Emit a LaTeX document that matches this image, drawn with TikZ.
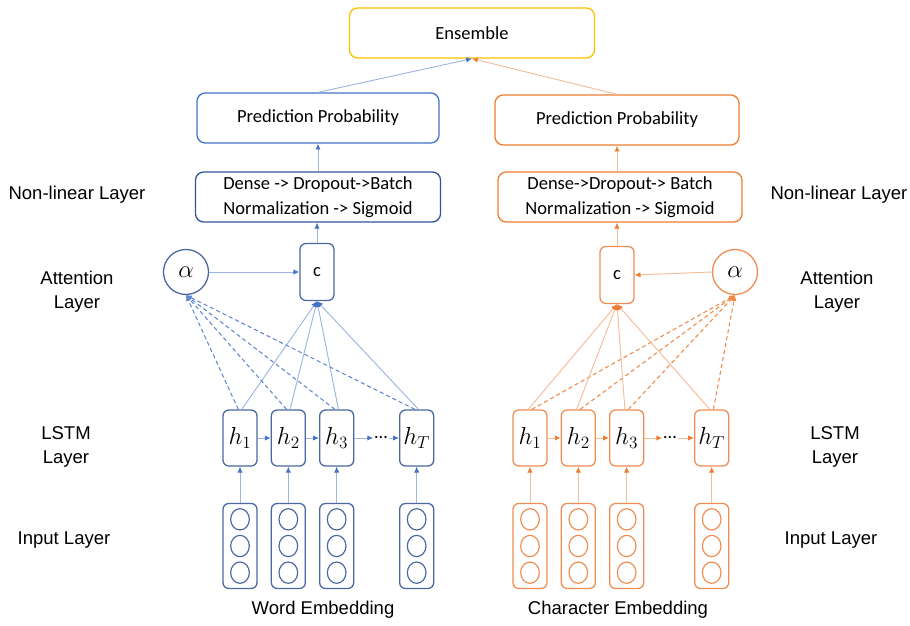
\RequirePackage{fix-cm}
\documentclass[tikz,border=0pt]{standalone}
\usepackage{fontspec}
\setmainfont{Carlito}
\newfontfamily\labelfont{Liberation Sans}
\usetikzlibrary{arrows.meta}

\definecolor{wordblue}{HTML}{4472C4}
\definecolor{wordnavy}{HTML}{2F5597}
\definecolor{wordedge}{HTML}{4A68A2}
\definecolor{wordline}{HTML}{9DB5E0}
\definecolor{charorange}{HTML}{ED7D31}
\definecolor{charedge}{HTML}{EE8D52}
\definecolor{charline}{HTML}{F5BC98}
\definecolor{ensgold}{HTML}{FFC000}

\begin{document}
\begin{tikzpicture}[x=0.03cm, y=-0.03cm, node distance=1.45cm,
  txt/.style={font=\fontsize{15.8}{21}\selectfont},
  mtxt/.style={font=\fontsize{21}{24}\selectfont},
  side/.style={font=\labelfont\fontsize{15.8}{20.5}\selectfont, align=center},
  box/.style={draw, rounded corners=7pt, line width=1.1pt, minimum height=1.5cm, align=center, txt},
  hcell/.style={draw, rounded corners=5pt, line width=1.1pt, minimum width=1.02cm, minimum height=1.68cm, inner sep=0pt, mtxt},
  attn/.style={draw, circle, line width=1.1pt, minimum size=1.35cm, inner sep=0pt, mtxt},
  embcol/.style={draw, rounded corners=5pt, line width=1.1pt, minimum width=1.02cm, minimum height=2.55cm},
  wlink/.style={draw=wordline, line width=0.8pt, -{Latex[length=5pt,width=4.5pt,color=wordblue]}},
  wdash/.style={draw=wordblue!85, line width=0.9pt, dash pattern=on 3.5pt off 2.5pt, -{Latex[length=5pt,width=4.5pt]}},
  clink/.style={draw=charline, line width=0.8pt, -{Latex[length=5pt,width=4.5pt,color=charorange]}},
  cdash/.style={draw=charorange!90, line width=0.9pt, dash pattern=on 3.5pt off 2.5pt, -{Latex[length=5pt,width=4.5pt]}}]

  \useasboundingbox (0,0) rectangle (910,626);

  % Top
  \node[box, draw=ensgold, minimum width=7.35cm] (ens) at (472,33) {Ensemble};

  % Word branch
  \node[box, draw=wordblue, minimum width=7.26cm] (wpp) at (318,118) {Prediction Probability};
  \node[box, draw=wordnavy, minimum width=7.35cm] (wnl) at (318,197) {Dense -> Dropout->Batch\\Normalization -> Sigmoid};
  \node[attn, draw=wordedge] (walpha) at (186,272) {$\alpha$};
  \node[hcell, draw=wordedge, minimum height=1.71cm, txt] (wc) at (317,272) {c};
  \node[hcell, draw=wordedge] (wh1) at (240,438) {$h_1$};
  \node[hcell, draw=wordedge, right of=wh1] (wh2) {$h_2$};
  \node[hcell, draw=wordedge, right of=wh2] (wh3) {$h_3$};
  \node[hcell, draw=wordedge, right of=wh3, node distance=2.4cm] (whT) {$h_T$};
  \node[txt, inner sep=1pt] (wdots) at (381,438) {\ldots};
  \node[embcol, draw=wordedge, below of=wh1, node distance=3.24cm] (wx1) {};
  \node[embcol, draw=wordedge, below of=wh2, node distance=3.24cm] (wx2) {};
  \node[embcol, draw=wordedge, below of=wh3, node distance=3.24cm] (wx3) {};
  \node[embcol, draw=wordedge, below of=whT, node distance=3.24cm] (wx4) {};

  % Character branch
  \node[box, draw=charorange, minimum width=7.32cm] (cpp) at (617,120) {Prediction Probability};
  \node[box, draw=charorange, minimum width=7.32cm] (cnl) at (620,197) {Dense->Dropout-> Batch\\Normalization -> Sigmoid};
  \node[attn, draw=charedge] (calpha) at (735,272) {$\alpha$};
  \node[hcell, draw=charedge, minimum height=1.71cm, txt] (cc) at (617,275) {c};
  \node[hcell, draw=charedge] (ch1) at (530,438) {$h_1$};
  \node[hcell, draw=charedge, right of=ch1] (ch2) {$h_2$};
  \node[hcell, draw=charedge, right of=ch2] (ch3) {$h_3$};
  \node[hcell, draw=charedge, right of=ch3, node distance=2.55cm] (chT) {$h_T$};
  \node[txt, inner sep=1pt] (cdots) at (670,438) {\ldots};
  \node[embcol, draw=charedge, below of=ch1, node distance=3.24cm] (cx1) {};
  \node[embcol, draw=charedge, below of=ch2, node distance=3.24cm] (cx2) {};
  \node[embcol, draw=charedge, below of=ch3, node distance=3.24cm] (cx3) {};
  \node[embcol, draw=charedge, below of=chT, node distance=3.24cm] (cx4) {};

  % units inside the embedding columns
  \foreach \col in {wx1,wx2,wx3,wx4}
    \foreach \dy in {-0.8cm,0cm,0.8cm}
      \draw[wordedge, line width=1pt] ([yshift=\dy]\col.center) ellipse (0.28cm and 0.32cm);
  \foreach \col in {cx1,cx2,cx3,cx4}
    \foreach \dy in {-0.8cm,0cm,0.8cm}
      \draw[charedge, line width=1pt] ([yshift=\dy]\col.center) ellipse (0.28cm and 0.32cm);

  % layer names
  \node[side] (lnl) at (77,195) {Non-linear Layer};
  \node[side] (lat) at (77,292) {Attention\\Layer};
  \node[side] (lls) at (66,447) {LSTM\\Layer};
  \node[side] (lin) at (64,540) {Input Layer};
  \node[side] (rnl) at (839,195) {Non-linear Layer};
  \node[side] (rat) at (837,292) {Attention\\Layer};
  \node[side] (rls) at (835,447) {LSTM\\Layer};
  \node[side] (rin) at (831,540) {Input Layer};
  \node[side] (wemb) at (323,610) {Word Embedding};
  \node[side] (cemb) at (618,610) {Character Embedding};

  % word connectors
  \draw[wlink] (wpp.north) -- (ens.south);
  \draw[wlink] (wnl.north) -- (wpp.south);
  \draw[wlink] (wc.north) -- (wc.north |- wnl.south);
  \draw[wlink] (walpha.east) -- (wc.west);
  \foreach \h in {wh1,wh2,wh3,whT} {
    \draw[wdash] ([xshift=-1.5pt]\h.north) -- (walpha.south);
    \draw[wlink] ([xshift=1.5pt]\h.north) -- (wc.south);
  }
  \draw[wlink] (wh1) -- (wh2);
  \draw[wlink] (wh2) -- (wh3);
  \draw[wlink] (wh3) -- (wdots);
  \draw[wlink] (wdots) -- (whT);
  \draw[wlink] (wx1) -- (wh1);
  \draw[wlink] (wx2) -- (wh2);
  \draw[wlink] (wx3) -- (wh3);
  \draw[wlink] (wx4) -- (whT);

  % character connectors
  \draw[clink] (cpp.north) -- (ens.south);
  \draw[clink] (cnl.north -| cpp.south) -- (cpp.south);
  \draw[clink] (cc.north) -- (cc.north |- cnl.south);
  \draw[clink] (calpha.west) -- (cc.east);
  \foreach \h in {ch1,ch2,ch3,chT} {
    \draw[cdash] ([xshift=1.5pt]\h.north) -- (calpha.south);
    \draw[clink] ([xshift=-1.5pt]\h.north) -- (cc.south);
  }
  \draw[clink] (ch1) -- (ch2);
  \draw[clink] (ch2) -- (ch3);
  \draw[clink] (ch3) -- (cdots);
  \draw[clink] (cdots) -- (chT);
  \draw[clink] (cx1) -- (ch1);
  \draw[clink] (cx2) -- (ch2);
  \draw[clink] (cx3) -- (ch3);
  \draw[clink] (cx4) -- (chT);

\end{tikzpicture}
\end{document}
